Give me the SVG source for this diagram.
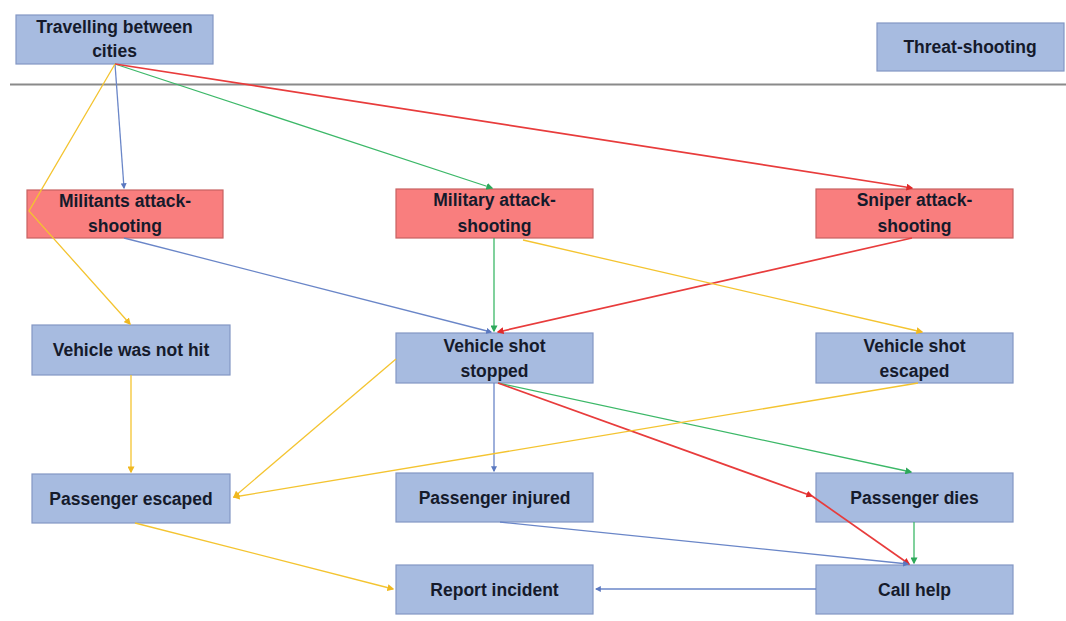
<svg xmlns="http://www.w3.org/2000/svg" width="1066" height="621" viewBox="0 0 1066 621">
<style>
.b{fill:#a7bbe0;stroke:#8397c4;stroke-width:1.2}
.r{fill:#f97e7e;stroke:#c76262;stroke-width:1.2}
text{font-family:"Liberation Sans",Arial,sans-serif;font-weight:bold;font-size:17.5px;fill:#151a2b;text-anchor:middle}
.c{fill:none;stroke-width:1.3}
.cb{stroke:#6a86c8}
.cg{stroke:#3cb868}
.cr{stroke:#e83c3c;stroke-width:1.7}
.cy{stroke:#f4c430}
</style>
<defs>
<marker id="ab" viewBox="0 0 10 10" refX="8" refY="5" markerWidth="6" markerHeight="6" orient="auto" markerUnits="userSpaceOnUse"><path d="M0,0L10,5L0,10z" fill="#5a78c0"/></marker>
<marker id="ag" viewBox="0 0 10 10" refX="8" refY="5" markerWidth="7" markerHeight="7" orient="auto" markerUnits="userSpaceOnUse"><path d="M0,0L10,5L0,10z" fill="#2da85a"/></marker>
<marker id="ar" viewBox="0 0 10 10" refX="8" refY="5" markerWidth="7" markerHeight="7" orient="auto" markerUnits="userSpaceOnUse"><path d="M0,0L10,5L0,10z" fill="#e02a2a"/></marker>
<marker id="ay" viewBox="0 0 10 10" refX="8" refY="5" markerWidth="7" markerHeight="7" orient="auto" markerUnits="userSpaceOnUse"><path d="M0,0L10,5L0,10z" fill="#f0b820"/></marker>
</defs>
<rect width="1066" height="621" fill="#ffffff"/>
<line x1="10" y1="84.5" x2="1066" y2="84.5" stroke="#8a8a8a" stroke-width="2"/>
<g id="travelling"><rect class="b" x="16" y="15" width="197" height="49"/><text x="114.5" y="33">Travelling between</text><text x="114.5" y="57">cities</text></g>
<g id="threat"><rect class="b" x="877" y="23" width="187" height="48"/><text x="970" y="53">Threat-shooting</text></g>
<g id="militants"><rect class="r" x="27" y="190" width="196" height="48"/><text x="125" y="207">Militants attack-</text><text x="125" y="232">shooting</text></g>
<g id="military"><rect class="r" x="396" y="189" width="197" height="49"/><text x="494.5" y="206">Military attack-</text><text x="494.5" y="232">shooting</text></g>
<g id="sniper"><rect class="r" x="816" y="189" width="197" height="49"/><text x="914.5" y="206">Sniper attack-</text><text x="914.5" y="232">shooting</text></g>
<g id="notHit"><rect class="b" x="32" y="325" width="198" height="50"/><text x="131" y="356">Vehicle was not hit</text></g>
<g id="shotStopped"><rect class="b" x="396" y="333" width="197" height="50"/><text x="494.5" y="352">Vehicle shot</text><text x="494.5" y="377">stopped</text></g>
<g id="shotEscaped"><rect class="b" x="816" y="333" width="197" height="50"/><text x="914.5" y="352">Vehicle shot</text><text x="914.5" y="377">escaped</text></g>
<g id="passEscaped"><rect class="b" x="32" y="474" width="198" height="49"/><text x="131" y="505">Passenger escaped</text></g>
<g id="passInjured"><rect class="b" x="396" y="473" width="197" height="49"/><text x="494.5" y="504">Passenger injured</text></g>
<g id="passDies"><rect class="b" x="816" y="473" width="197" height="49"/><text x="914.5" y="504">Passenger dies</text></g>
<g id="report"><rect class="b" x="396" y="565" width="197" height="49"/><text x="494.5" y="596">Report incident</text></g>
<g id="callHelp"><rect class="b" x="816" y="565" width="197" height="49"/><text x="914.5" y="596">Call help</text></g>
<g id="connectors">
<path class="c cb" d="M115,64L124,188" marker-end="url(#ab)"/>
<path class="c cg" d="M115,64L492,188" marker-end="url(#ag)"/>
<path class="c cr" d="M115,64L912,188" marker-end="url(#ar)"/>
<path class="c cy" d="M115,64L29,211L130,324" marker-end="url(#ay)"/>
<path class="c cb" d="M124,238L491,332" marker-end="url(#ab)"/>
<path class="c cg" d="M494,238L494,331" marker-end="url(#ag)"/>
<path class="c cr" d="M912,238L498,332" marker-end="url(#ar)"/>
<path class="c cy" d="M523,240L922,332" marker-end="url(#ay)"/>
<path class="c cb" d="M494,383L494,471" marker-end="url(#ab)"/>
<path class="c cg" d="M498,383L911,472" marker-end="url(#ag)"/>
<path class="c cr" d="M498,383L812,496" marker-end="url(#ar)"/>
<path class="c cr" d="M812,496L909,564" marker-end="url(#ar)"/>
<path class="c cy" d="M396,359L234,497" marker-end="url(#ay)"/>
<path class="c cy" d="M918,383L234,497" marker-end="url(#ay)"/>
<path class="c cy" d="M131,375L131,472" marker-end="url(#ay)"/>
<path class="c cy" d="M135,523L393,589" marker-end="url(#ay)"/>
<path class="c cb" d="M500,522L908,564" marker-end="url(#ab)"/>
<path class="c cg" d="M914,522L914,563" marker-end="url(#ag)"/>
<path class="c cb" d="M816,589L596,589" marker-end="url(#ab)"/>
</g>
</svg>
